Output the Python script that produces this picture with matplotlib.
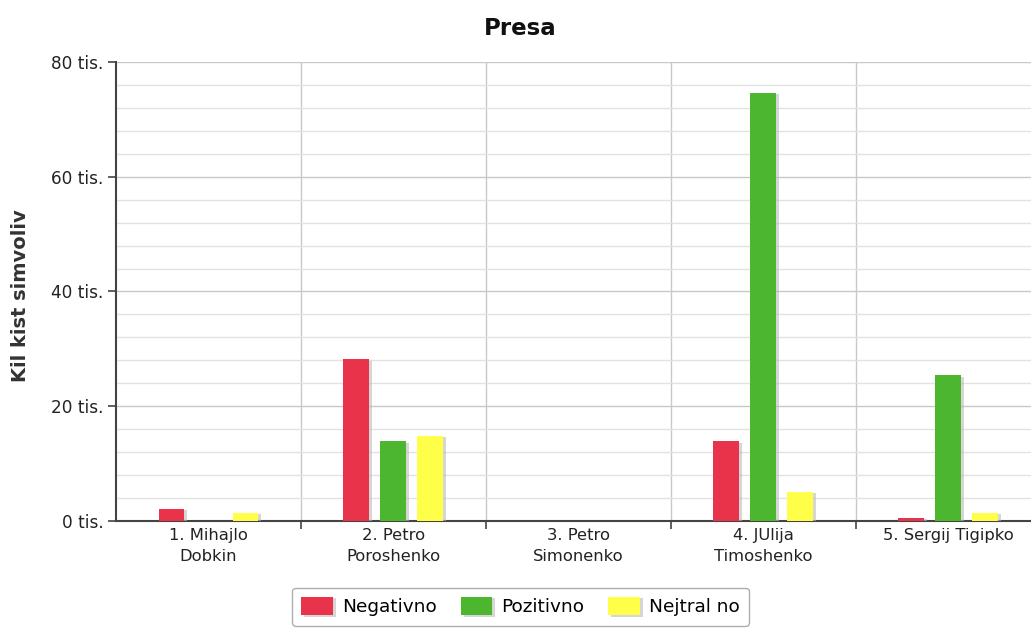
import matplotlib
matplotlib.use("Agg")
import matplotlib.pyplot as plt
import matplotlib.patheffects as pe
from matplotlib.ticker import MultipleLocator, FuncFormatter
import numpy as np

categories = ["1. Mihajlo\nDobkin", "2. Petro\nPoroshenko", "3. Petro\nSimonenko",
              "4. JUlija\nTimoshenko", "5. Sergij Tigipko"]
series_names = ["Negativno", "Pozitivno", "Nejtral no"]
negativno = [2.1, 28.2, 0.0, 13.9, 0.6]
pozitivno = [0.0, 13.9, 0.0, 74.6, 25.4]
nejtralno = [1.4, 14.8, 0.0, 5.1, 1.4]
colors = ["#E8334A", "#4DB62F", "#FFFF4A"]

plt.rcParams["font.family"] = "DejaVu Sans"
fig = plt.figure(figsize=(10.31, 6.28), dpi=100)
ax = fig.add_axes([0.1125, 0.1704, 0.8875, 0.7309])

x = np.arange(len(categories))
width = 0.14
step = 0.2
shadow = [pe.SimplePatchShadow(offset=(2, -1), shadow_rgbFace="#bbbbbb", alpha=0.6), pe.Normal()]
for i, (vals, name, col) in enumerate(zip([negativno, pozitivno, nejtralno], series_names, colors)):
    bars = ax.bar(x + (i - 1) * step, vals, width, color=col, label=name, zorder=3)
    for b in bars:
        b.set_path_effects(shadow)

ax.set_xlim(-0.5, 4.447)
ax.set_ylim(0, 80)
ax.yaxis.set_major_locator(MultipleLocator(20))
ax.yaxis.set_minor_locator(MultipleLocator(4))
ax.yaxis.set_major_formatter(FuncFormatter(lambda v, p: f"{int(v)} tis."))
ax.grid(axis="y", which="major", color="#c8c8c8", lw=1.0, zorder=0)
ax.grid(axis="y", which="minor", color="#e2e2e2", lw=1.0, zorder=0)

# category separators
for b in np.arange(0.5, 4.5, 1.0):
    ax.axvline(b, color="#c8c8c8", lw=1.0, zorder=0)

ax.set_xticks(x)
ax.set_xticklabels(categories, fontsize=11.8, color="#222222", linespacing=1.5)
ax.tick_params(axis="x", which="major", length=0, pad=5)
# tick marks at separators
ax.set_xticks(np.arange(0.5, 4.5, 1.0), minor=True)
ax.tick_params(axis="x", which="minor", length=6, width=1.2, color="#444444")
ax.tick_params(axis="y", which="major", length=6, width=1.2, color="#444444",
               labelsize=12.2, labelcolor="#222222", pad=3)
ax.tick_params(axis="y", which="minor", length=0)

for s in ["top", "right"]:
    ax.spines[s].set_visible(False)
for s in ["left", "bottom"]:
    ax.spines[s].set_color("#444444")
    ax.spines[s].set_linewidth(1.5)

ax.set_ylabel("Kil kist simvoliv", fontsize=14, fontweight="bold", color="#333333")
ax.yaxis.set_label_coords(-0.094, 0.49)
fig.text(0.505, 0.955, "Presa", ha="center", va="center", fontsize=16.5, fontweight="bold", color="#111111")

leg = fig.legend(loc="center", bbox_to_anchor=(0.505, 0.034), ncol=3, fontsize=13.3,
                 frameon=True, fancybox=True, edgecolor="#999999", handlelength=1.7,
                 handleheight=1.15, columnspacing=1.3, handletextpad=0.5, borderpad=0.5)
leg.get_frame().set_linewidth(1.0)

fig.savefig("out.png", dpi=100)
